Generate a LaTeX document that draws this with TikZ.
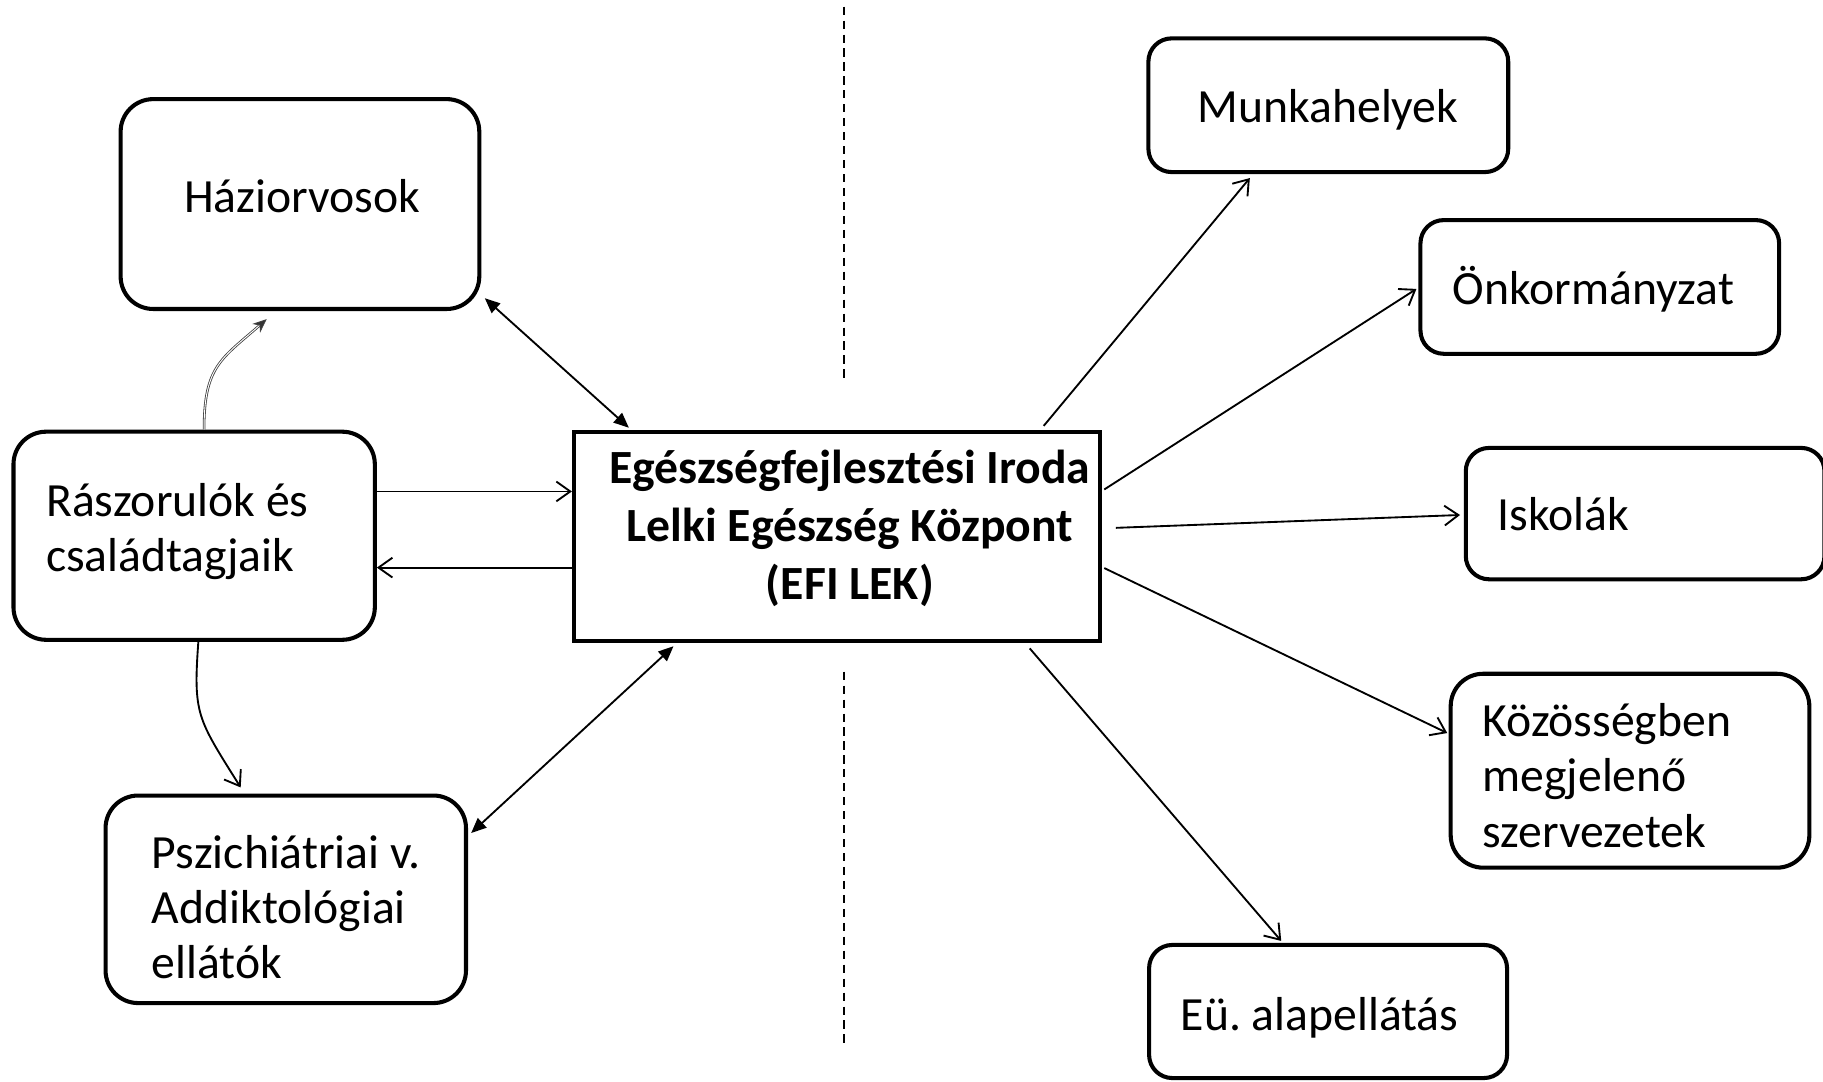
\documentclass[tikz,border=0pt]{standalone}
\usepackage{fontspec}
\setmainfont{Carlito}
\usetikzlibrary{arrows.meta,calc}
\frenchspacing
\tikzset{
  box/.style={draw=black, line width=3.5pt, inner sep=0pt, rounded corners=28pt},
  lowbox/.style={box, rounded corners=20pt},
  mainbox/.style={draw=black, line width=3.5pt, inner sep=0pt},
  txt/.style={inner sep=0pt, font=\fontsize{41}{47.5}\selectfont},
  btxt/.style={inner sep=0pt, font=\fontsize{41}{50}\selectfont\bfseries},
  conn/.style={line width=1.6pt, draw=black},
  openarrow/.style={conn, -{Straight Barb[length=12pt,width=17pt]}},
  dblarrow/.style={conn, {Triangle[length=13pt,width=11pt]}-{Triangle[length=13pt,width=11pt]}},
  dblline/.style={line width=0.7pt, draw=black!75, double=white, double distance=0.8pt,
    -{Stealth[length=12pt,width=10pt,fill=black!80]}},
  dashline/.style={line width=1.6pt, draw=black, dash pattern=on 7pt off 5pt}
}
\begin{document}
\begin{tikzpicture}[x=1pt,y=-1pt]
\useasboundingbox (0,0) rectangle (1568,930);
\fill[white] (0,0) rectangle (1568,930);

% dashed separator
\coordinate (d1) at (726.3,5.7);
\coordinate (d2) at (726.3,327);
\coordinate (d3) at (726.3,577.7);
\coordinate (d4) at (726.3,898.9);
\draw[dashline] (d1) -- (d2);
\draw[dashline] (d3) -- (d4);

% boxes
\node[box, minimum width=308.5pt, minimum height=180.5pt] (hazi) at (258,175.5) {};
\node[box, minimum width=310.8pt, minimum height=179pt] (rasz) at (167,460.8) {};
\node[box, minimum width=310pt, minimum height=178.5pt] (psz) at (245.8,773.5) {};
\node[mainbox, minimum width=452.5pt, minimum height=179.5pt] (efi) at (719.9,461.4) {};
\node[lowbox, minimum width=309.5pt, minimum height=115pt] (munka) at (1142.5,90.5) {};
\node[lowbox, minimum width=308.5pt, minimum height=115pt] (onk) at (1376,246.8) {};
\node[lowbox, minimum width=308.5pt, minimum height=113pt] (isk) at (1415,441.75) {};
\node[box, minimum width=308.5pt, minimum height=166.8pt] (koz) at (1402,662.9) {};
\node[lowbox, minimum width=307.9pt, minimum height=114.5pt] (eu) at (1142.3,870) {};

% texts
\node[txt, anchor=base] (hazit) at (260,183) {Háziorvosok};
\node[txt, anchor=base west] (raszt) at (39.5,444.4)
  {\begin{tabular}[t]{@{}l@{}}Rászorulók és\\családtagjaik\end{tabular}};
\node[txt, anchor=base west] (pszt) at (130.5,746.9)
  {\begin{tabular}[t]{@{}l@{}}Pszichiátriai v.\\Addiktológiai\\ellátók\end{tabular}};
\node[btxt, anchor=base] (efit) at (731,415.5)
  {\begin{tabular}[t]{@{}c@{}}Egészségfejlesztési Iroda\\Lelki Egészség Központ\\(EFI LEK)\end{tabular}};
\node[txt, anchor=base] (munkat) at (1142.3,105.3) {Munkahelyek};
\node[txt, anchor=base west] (onkt) at (1249.5,261.7) {Önkormányzat};
\node[txt, anchor=base west] (iskt) at (1288,455.9) {Iskolák};
\node[txt, anchor=base west] (kozt) at (1275,633.6)
  {\begin{tabular}[t]{@{}l@{}}Közösségben\\megjelenő\\szervezetek\end{tabular}};
\node[txt, anchor=base west] (eut) at (1015.5,886) {Eü. alapellátás};

% left side connectors
\draw[dblarrow] ($(hazi.south east)+(3,-11)$) -- ($(efi.north west)+(49,-2)$);
\draw[dblarrow] ($(psz.north east)+(2.7,34)$) -- ($(efi.south west)+(87.4,2.9)$);
\draw[openarrow] ([yshift=38.1pt]rasz.east) -- ([yshift=38.1pt]rasz.east -| efi.west);
\draw[openarrow] ([yshift=-27.4pt]rasz.east -| efi.west) -- ([yshift=-27.4pt]rasz.east);
\draw[dblline] ($(rasz.north)+(8.5,0)$) .. controls (175.5,315) and (190,309) .. ($(hazi.south)+(-28.6,7)$);
\draw[openarrow] ($(rasz.south)+(3.6,0)$) .. controls (166,615) and (170,618) .. ($(psz.north)+(-38.8,-5.2)$);

% right side connectors
\draw[openarrow] ($(efi.north east)+(-50.2,-3.6)$) -- ($(munka.south)+(-67.5,3.4)$);
\draw[openarrow] ($(efi.east)+(1.9,-40.4)$) -- ($(onk.west)+(-1.7,1.7)$);
\draw[openarrow] ($(efi.east)+(11.9,-7.4)$) -- ($(isk.west)+(-3.2,1.2)$);
\draw[openarrow] ($(efi.east)+(1.9,27.2)$) -- ($(koz.west)+(-1.2,-32.4)$);
\draw[openarrow] ($(efi.south east)+(-62.2,4.8)$) -- ($(eu.north)+(-40.3,-1.7)$);
\end{tikzpicture}
\end{document}
